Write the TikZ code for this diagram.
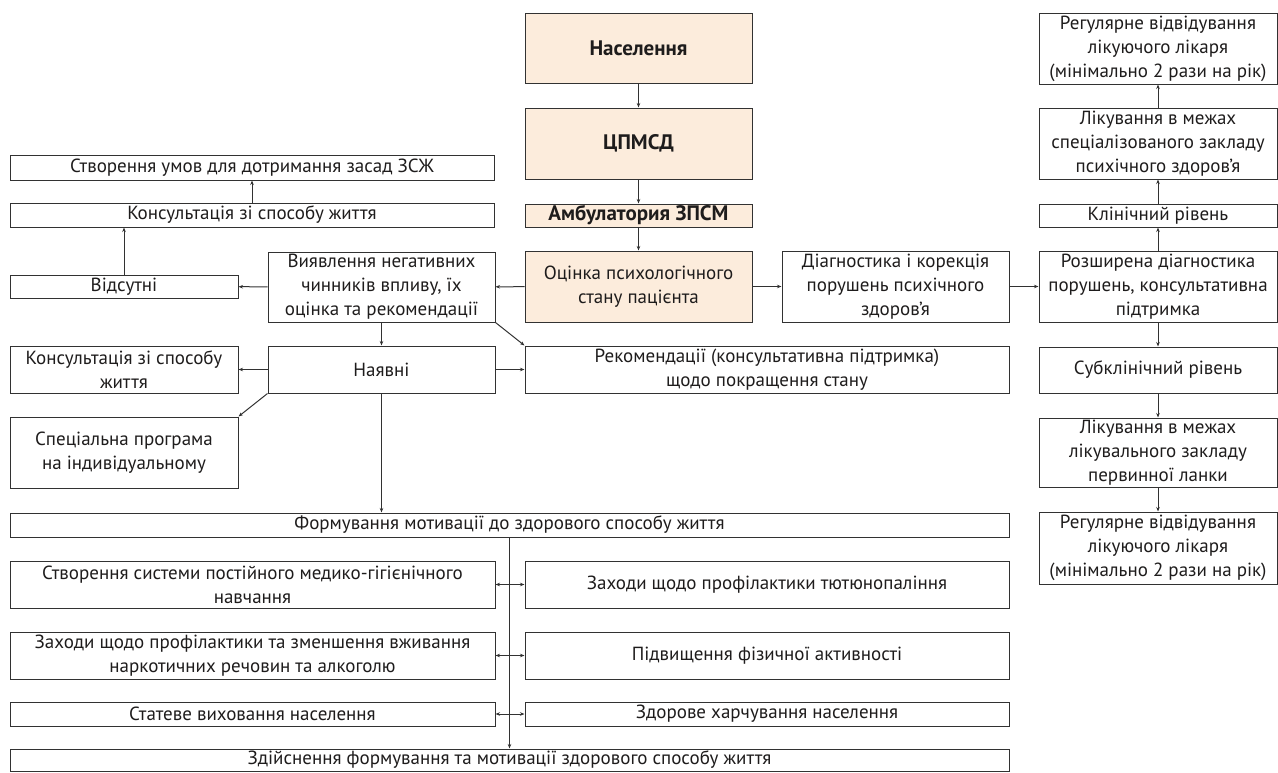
\documentclass[tikz,border=0pt]{standalone}
\usepackage{fontspec}
\setmainfont{PT Sans}
\usetikzlibrary{arrows.meta}
\definecolor{beige}{RGB}{252,236,220}
\definecolor{ln}{RGB}{50,50,50}
\definecolor{tx}{RGB}{30,28,28}
\newcommand\bx[6][]{%
  \node[box,#1,minimum width={(#4-#2)*1pt},minimum height={(#5-#3)*1pt}] (#6) at ({(#2+#4)/2},{(#3+#5)/2})}
\begin{document}
\begin{tikzpicture}[x=1pt,y=-1pt,
  box/.style={draw=ln,line width=1pt,inner sep=0pt,align=center,text=tx,
    font=\fontsize{19}{24}\selectfont},
  hl/.style={fill=beige},
  bold/.style={font=\fontsize{21}{24}\selectfont\bfseries},
  arr/.style={draw=ln,line width=1pt,-{Stealth[length=4.5pt,width=3.5pt]}},
  darr/.style={draw=ln,line width=1pt,{Stealth[length=4.5pt,width=3.5pt]}-{Stealth[length=4.5pt,width=3.5pt]}}]
\useasboundingbox (0,0) rectangle (1278,772);
% centre column
\bx[hl,bold]{525}{13}{752}{83}{nas} {Населення};
\bx[hl,bold]{525}{108}{752}{179}{cp} {ЦПМСД};
\bx[hl,bold]{525}{204}{752}{227}{amb} {Амбулатория ЗПСМ};
\bx[hl]{525}{251}{752}{322}{ots} {Оцінка психологічного\\стану пацієнта};
% left
\bx{10}{155}{494}{180}{stv} {Створення умов для дотримання засад ЗСЖ};
\bx{10}{203}{494}{227}{kon1} {Консультація зі способу життя};
\bx{10}{275}{238}{298}{vid} {Відсутні};
\bx{268}{252}{495}{322}{vyav} {Виявлення негативних\\чинників впливу, їх\\оцінка та рекомендації};
\bx{268}{346}{495}{393}{nay} {Наявні};
\bx{10}{346}{238}{393}{kon2} {Консультація зі способу\\життя};
\bx{10}{417}{238}{488}{spec} {Спеціальна програма\\на індивідуальному};
\bx{525}{346}{1009}{393}{rek} {Рекомендації (консультативна підтримка)\\щодо покращення стану};
% right
\bx{782}{251}{1009}{322}{diag} {Діагностика і корекція\\порушень психічного\\здоров’я};
\bx{1039}{251}{1277}{322}{roz} {Розширена діагностика\\порушень, консультативна\\підтримка};
\bx{1039}{204}{1277}{227}{klin} {Клінічний рівень};
\bx{1039}{108}{1277}{179}{liks} {Лікування в межах\\спеціалізованого закладу\\психічного здоров’я};
\bx{1039}{13}{1277}{84}{reg1} {Регулярне відвідування\\лікуючого лікаря\\(мінімально 2 рази на рік)};
\bx{1039}{347}{1277}{393}{sub} {Субклінічний рівень};
\bx{1039}{418}{1277}{487}{likp} {Лікування в межах\\лікувального закладу\\первинної ланки};
\bx{1039}{512}{1277}{584}{reg2} {Регулярне відвідування\\лікуючого лікаря\\(мінімально 2 рази на рік)};
% bottom
\bx{10}{513}{1009}{537}{form} {Формування мотивації до здорового способу життя};
\bx{10}{561}{495}{608}{l1} {Створення системи постійного медико-гігієнічного\\навчання};
\bx{10}{632}{495}{679}{l2} {Заходи щодо профілактики та зменшення вживання\\наркотичних речовин та алкоголю};
\bx{10}{702}{495}{726}{l3} {Статеве виховання населення};
\bx{525}{561}{1009}{608}{r1} {Заходи щодо профілактики тютюнопаління};
\bx{525}{632}{1009}{679}{r2} {Підвищення фізичної активності};
\bx{525}{702}{1009}{726}{r3} {Здорове харчування населення};
\bx{10}{749}{1009}{771}{zd} {Здійснення формування та мотивації здорового способу життя};
% connectors
\draw[arr] (nas) -- (cp);
\draw[arr] (cp) -- (amb);
\draw[arr] (amb) -- (ots);
\draw[arr] (ots) -- (vyav);
\draw[arr] (vyav) -- (vid);
\draw[arr] (vid.north) -- (vid.north |- kon1.south);
\draw[arr] (kon1) -- (stv);
\draw[arr] (vyav) -- (nay);
\draw[arr] (vyav.south east) -- (rek.north west);
\draw[arr] (nay) -- (kon2);
\draw[arr] (nay) -- (rek);
\draw[arr] (nay.south west) -- (spec.north east);
\draw[arr] (nay.south) -- (nay.south |- form.north);
\draw[arr] (ots) -- (diag);
\draw[arr] (diag) -- (roz);
\draw[arr] (roz) -- (klin);
\draw[arr] (klin) -- (liks);
\draw[arr] (liks) -- (reg1);
\draw[arr] (roz) -- (sub);
\draw[arr] (sub) -- (likp);
\draw[arr] (likp) -- (reg2);
\draw[arr] (form) -- (zd);
\draw[darr] (l1) -- (r1);
\draw[darr] (l2) -- (r2);
\draw[darr] (l3) -- (r3);
\end{tikzpicture}
\end{document}
